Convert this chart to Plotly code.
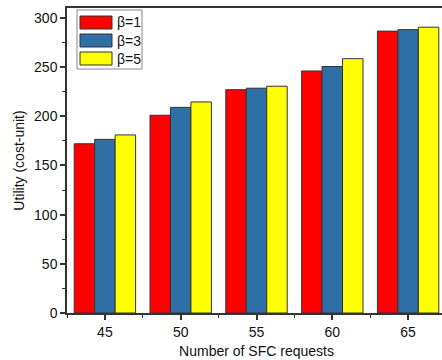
import plotly.graph_objects as go

categories = [45, 50, 55, 60, 65]
series_names = ["β=1", "β=3", "β=5"]
beta1 = [172, 201, 227, 246, 286.5]
beta3 = [176.5, 209, 228.5, 250.5, 288]
beta5 = [181, 214.5, 230.5, 258.5, 290.5]
colors = ["#FF0000", "#2F6FA7", "#FFFF00"]
y_ticks = [0, 50, 100, 150, 200, 250, 300]

W, H = 446, 360
ML, MR, MT, MB = 67, 0, 8, 47
PW, PH = W - ML - MR, H - MT - MB

FONT = "Liberation Sans, Arial, sans-serif"
fig = go.Figure()
for name, vals, col in zip(series_names, [beta1, beta3, beta5], colors):
    fig.add_trace(go.Bar(x=categories, y=vals, name=name, marker=dict(color=col, line=dict(color="#333333", width=1)), showlegend=False))

def px_x(p):
    return (p - ML) / PW

def px_y(p):
    return (H - MB - p) / PH

shapes = [dict(type="rect", xref="paper", yref="paper", x0=px_x(77), x1=px_x(142), y0=px_y(69), y1=px_y(10), line=dict(color="#888888", width=1), fillcolor="white", layer="above")]
annotations = []
row_tops = [16, 34, 52]
for name, col, top in zip(series_names, colors, row_tops):
    shapes.append(dict(type="rect", xref="paper", yref="paper", x0=px_x(80), x1=px_x(112), y0=px_y(top + 13), y1=px_y(top), line=dict(color="#333333", width=1), fillcolor=col, layer="above"))
    annotations.append(dict(xref="paper", yref="paper", x=px_x(115), y=px_y(top + 6.5), text=name, showarrow=False, xanchor="left", yanchor="middle", font=dict(family=FONT, size=14, color="#111111")))

fig.update_layout(
    width=W, height=H,
    margin=dict(l=ML, r=MR, t=MT, b=MB),
    paper_bgcolor="white", plot_bgcolor="white",
    barmode="group", bargap=0.19, bargroupgap=0,
    font=dict(family=FONT, size=14, color="#111111"),
    shapes=shapes, annotations=annotations,
)
fig.update_xaxes(
    range=[42.5, 67.5], tickvals=categories, ticktext=[str(c) for c in categories],
    showline=True, linecolor="#333333", linewidth=1.5, mirror=True,
    ticks="outside", ticklen=5, tickwidth=1.5, tickcolor="#333333",
    minor=dict(ticks="outside", tick0=42.5, dtick=5, ticklen=3, tickwidth=1, tickcolor="#333333"),
    showgrid=False, zeroline=False,
    title=dict(text="Number of SFC requests", standoff=8, font=dict(size=14)),
    tickfont=dict(size=14),
)
fig.update_yaxes(
    range=[0, 310], tickvals=y_ticks,
    showline=True, linecolor="#333333", linewidth=1.5, mirror=False,
    ticks="outside", ticklen=5, tickwidth=1.5, tickcolor="#333333",
    minor=dict(ticks="outside", dtick=25, ticklen=3, tickwidth=1, tickcolor="#333333"),
    showgrid=False, zeroline=False,
    title=dict(text="Utility (cost-unit)", standoff=6, font=dict(size=14)),
    tickfont=dict(size=14),
)
fig.write_html("out.html", config={"displayModeBar": False}, post_script="document.body.style.margin='0';document.body.style.overflow='hidden';")
